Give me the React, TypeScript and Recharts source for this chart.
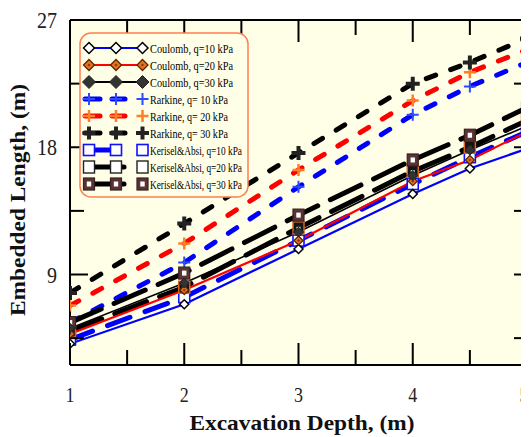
import React from 'react';
import { LineChart, Line, XAxis, YAxis, CartesianGrid } from 'recharts';

const depth = [1, 2, 3, 4, 4.5, 5];
const coulomb10 = [4.1, 6.9, 10.8, 14.7, 16.5, 17.9];
const coulomb20 = [4.8, 7.9, 11.4, 15.6, 17.1, 19.1];
const coulomb30 = [5.2, 8.4, 12.0, 16.0, 17.8, 19.5];
const rankine10 = [5.6, 9.85, 15.2, 20.3, 22.3, 24.0];
const rankine20 = [6.8, 11.2, 16.4, 21.3, 23.3, 24.9];
const rankine30 = [7.7, 12.6, 17.6, 22.5, 24.0, 25.7];
const kerisel10 = [4.4, 7.4, 11.4, 15.4, 17.3, 19.1];
const kerisel20 = [5.0, 8.1, 12.3, 16.3, 18.0, 19.9];
const kerisel30 = [5.6, 9.1, 13.2, 17.1, 18.85, 20.8];

const xTicks = [1, 1.5, 2, 2.5, 3, 3.5, 4, 4.5, 5];
const xLabels = [1, 2, 3, 4, 5];
const yTicks = [4.5, 9, 13.5, 18, 22.5, 27];
const yLabels = [9, 18, 27];

const legendNames = [
  'Coulomb, q=10 kPa',
  'Coulomb, q=20 kPa',
  'Coulomb, q=30 kPa',
  'Rarkine, q= 10 kPa',
  'Rarkine, q= 20 kPa',
  'Rarkine, q= 30 kPa',
  'Kerisel&Absi, q=10 kPa',
  'Kerisel&Absi, q=20 kPa',
  'Kerisel&Absi, q=30 kPa',
];
const legendKeys = ['c10', 'c20', 'c30', 'r10', 'r20', 'r30', 'k10', 'k20', 'k30'];
const legendWidths = [83, 83, 83, 78, 78, 78, 92, 92, 92];

const rows = depth.map((d, i) => ({
  depth: d,
  c10: coulomb10[i],
  c20: coulomb20[i],
  c30: coulomb30[i],
  r10: rankine10[i],
  r20: rankine20[i],
  r30: rankine30[i],
  k10: kerisel10[i],
  k20: kerisel20[i],
  k30: kerisel30[i],
}));

const FONT = "'Liberation Serif', 'Times New Roman', Times, serif";
const BG = '#FFFFE8';
const BLUE = '#0000FF';
const RED = '#FF0000';
const ORANGE = '#FF7F27';

function diamond(cx: number, cy: number, r: number, fill: string, stroke: string, sw: number) {
  return (
    <polygon
      points={`${cx},${cy - r} ${cx + r},${cy} ${cx},${cy + r} ${cx - r},${cy}`}
      fill={fill}
      stroke={stroke}
      strokeWidth={sw}
    />
  );
}

function plus(cx: number, cy: number, r: number, color: string, sw: number) {
  return <path d={`M${cx - r},${cy}H${cx + r}M${cx},${cy - r}V${cy + r}`} stroke={color} strokeWidth={sw} fill="none" />;
}

function marker(kind: string, cx: number, cy: number, legend = false) {
  switch (kind) {
    case 'c10':
      return diamond(cx, cy, legend ? 5.5 : 4.5, '#FFFFFF', '#000', 1.5);
    case 'c20':
      return (
        <g>
          {diamond(cx, cy, legend ? 5.5 : 4.5, '#E8731E', '#5A2500', 1.3)}
          {diamond(cx, cy, 1.6, '#8A3A10', 'none', 0)}
        </g>
      );
    case 'c30':
      return diamond(cx, cy, legend ? 6.5 : 5, '#333333', '#222', 1);
    case 'r10':
      return plus(cx, cy, 6, '#2A4BFF', 2);
    case 'r20':
      return plus(cx, cy, 6, ORANGE, 2.5);
    case 'r30':
      return plus(cx, cy, legend ? 6.5 : 7, '#222', 4);
    case 'k10':
      return <rect x={cx - 5.5} y={cy - 5.5} width={11} height={11} fill="#FFFFFF" stroke="#1010FF" strokeWidth={1.6} />;
    case 'k20':
      if (legend) {
        return <rect x={cx - 5.5} y={cy - 6} width={11} height={12} fill="#FFFFFF" stroke="#222" strokeWidth={1.4} />;
      }
      return (
        <g>
          <rect x={cx - 5.5} y={cy - 6} width={11} height={12} fill="#151515" stroke="#D9661C" strokeWidth={1.5} />
          <rect x={cx - 2} y={cy - 1} width={4} height={3} fill="#FFFFFF" />
        </g>
      );
    case 'k30':
    default:
      return (
        <g>
          <rect x={cx - 5.5} y={cy - 6} width={11} height={12} fill="#5A3434" stroke="#3A2020" strokeWidth={1.2} />
          <rect x={cx - 2.2} y={cy - 2.5} width={4.4} height={5} fill="#FFFFFF" />
        </g>
      );
  }
}

const makeDot = (kind: string) => (p: any) => (
  <g key={`${kind}-${p.index}`}>{p.cx != null && p.cy != null ? marker(kind, p.cx, p.cy) : null}</g>
);

const BottomTick = (props: any) => {
  const { x, y, payload } = props;
  const v = payload.value;
  const major = Number.isInteger(v);
  const isLast = v === 5;
  return (
    <g>
      <line x1={x} x2={x} y1={y} y2={y - (major ? 22 : 15)} stroke="#000" strokeWidth={2} />
      {xLabels.includes(v) && (
        <text
          x={isLast ? x + 1.5 : x}
          y={y + 37}
          textAnchor={isLast ? 'end' : 'middle'}
          fontFamily={FONT}
          fontSize={22}
          fill="#222"
          textLength={9}
          lengthAdjust="spacingAndGlyphs"
        >
          {v}
        </text>
      )}
    </g>
  );
};

const TopTick = (props: any) => {
  const { x, y, payload } = props;
  const major = Number.isInteger(payload.value);
  return <line x1={x} x2={x} y1={y} y2={y + (major ? 22 : 15)} stroke="#000" strokeWidth={2} />;
};

const LeftTick = (props: any) => {
  const { x, y, payload } = props;
  const v = payload.value;
  const major = yLabels.includes(v);
  const s = String(v);
  return (
    <g>
      <line x1={x} x2={x + (major ? 18 : 14)} y1={y} y2={y} stroke="#000" strokeWidth={2} />
      {major && (
        <text
          x={x - 13}
          y={y}
          dy="0.35em"
          textAnchor="end"
          fontFamily={FONT}
          fontSize={23}
          fill="#222"
          textLength={s.length * 10}
          lengthAdjust="spacingAndGlyphs"
        >
          {s}
        </text>
      )}
    </g>
  );
};

const RightTick = (props: any) => {
  const { x, y } = props;
  return <line x1={x} x2={x - 13} y1={y} y2={y} stroke="#000" strokeWidth={2} />;
};

function LegendBox() {
  const mx = [10, 37, 63.5];
  return (
    <g transform="translate(71,24)">
      <rect x={1} y={1} width={168} height={164} rx={11} ry={11} fill={BG} stroke="#FF7F50" strokeWidth={1.5} />
      {legendKeys.map((k, i) => {
        const cy = 16 + i * 17;
        let line: React.ReactNode = null;
        if (k === 'c10' || k === 'c20' || k === 'c30') {
          const col = k === 'c10' ? BLUE : k === 'c20' ? RED : '#000';
          line = <line x1={mx[0]} x2={mx[2]} y1={cy} y2={cy} stroke={col} strokeWidth={2.2} />;
        } else if (k[0] === 'r') {
          const col = k === 'r10' ? BLUE : k === 'r20' ? RED : '#000';
          line = (
            <g stroke={col} strokeWidth={5} strokeLinecap="round">
              <line x1={6} x2={21} y1={cy} y2={cy} />
              <line x1={33} x2={46} y1={cy} y2={cy} />
            </g>
          );
        } else {
          const col = k === 'k10' ? BLUE : '#000';
          line = <line x1={9} x2={k === 'k10' ? 34 : 45} y1={cy} y2={cy} stroke={col} strokeWidth={5} strokeLinecap="round" />;
        }
        return (
          <g key={k}>
            {line}
            {mx.map((x, j) => (
              <g key={j}>{marker(k, x, cy, true)}</g>
            ))}
            <text
              x={71}
              y={cy + 4.5}
              fontFamily={FONT}
              fontSize={13}
              fill="#000"
              textLength={legendWidths[i]}
              lengthAdjust="spacingAndGlyphs"
            >
              {legendNames[i]}
            </text>
          </g>
        );
      })}
    </g>
  );
}

export default function App() {
  const W = 521;
  const H = 429;
  return (
    <div style={{ position: 'relative', width: W, height: H }}>
      <LineChart width={W} height={H} data={rows} margin={{ top: 0, right: 0, left: 0, bottom: 0 }}>
        <CartesianGrid horizontal={false} vertical={false} fill={BG} />
        <XAxis
          dataKey="depth"
          type="number"
          domain={[1, 5]}
          ticks={xTicks}
          interval={0}
          height={72}
          tickSize={0}
          tickMargin={0}
          tickLine={false}
          axisLine={{ stroke: '#000', strokeWidth: 2 }}
          tick={<BottomTick />}
          allowDataOverflow
        />
        <XAxis
          xAxisId="top"
          orientation="top"
          dataKey="depth"
          type="number"
          domain={[1, 5]}
          ticks={xTicks}
          interval={0}
          height={12}
          tickSize={0}
          tickMargin={0}
          tickLine={false}
          axisLine={{ stroke: '#000', strokeWidth: 2 }}
          tick={<TopTick />}
          allowDataOverflow
        />
        <YAxis
          type="number"
          domain={[2.6, 27]}
          ticks={yTicks}
          interval={0}
          width={62}
          tickSize={0}
          tickMargin={0}
          tickLine={false}
          axisLine={{ stroke: '#000', strokeWidth: 2 }}
          tick={<LeftTick />}
          allowDataOverflow
        />
        <YAxis
          yAxisId="right"
          orientation="right"
          type="number"
          domain={[2.6, 27]}
          ticks={yTicks}
          interval={0}
          width={2}
          tickSize={0}
          tickMargin={0}
          tickLine={false}
          axisLine={{ stroke: '#000', strokeWidth: 2 }}
          tick={<RightTick />}
          allowDataOverflow
        />
        <Line xAxisId="top" yAxisId="right" dataKey="r30" stroke="none" dot={false} activeDot={false} isAnimationActive={false} />

        <Line type="linear" dataKey="r10" stroke={BLUE} strokeWidth={5} strokeDasharray="10 16" strokeLinecap="round" dot={makeDot('r10')} activeDot={false} isAnimationActive={false} />
        <Line type="linear" dataKey="r20" stroke={RED} strokeWidth={5} strokeDasharray="10 16" strokeLinecap="round" dot={makeDot('r20')} activeDot={false} isAnimationActive={false} />
        <Line type="linear" dataKey="r30" stroke="#000" strokeWidth={5} strokeDasharray="10 16" strokeLinecap="round" dot={makeDot('r30')} activeDot={false} isAnimationActive={false} />

        <Line type="linear" dataKey="k10" stroke={BLUE} strokeWidth={5} strokeDasharray="24 16" strokeLinecap="round" dot={makeDot('k10')} activeDot={false} isAnimationActive={false} />
        <Line type="linear" dataKey="k20" stroke="#000" strokeWidth={5} strokeDasharray="34 14" strokeLinecap="round" dot={makeDot('k20')} activeDot={false} isAnimationActive={false} />
        <Line type="linear" dataKey="k30" stroke="#000" strokeWidth={5} strokeDasharray="34 14" strokeLinecap="round" dot={makeDot('k30')} activeDot={false} isAnimationActive={false} />

        <Line type="linear" dataKey="c10" stroke={BLUE} strokeWidth={2.2} dot={makeDot('c10')} activeDot={false} isAnimationActive={false} />
        <Line type="linear" dataKey="c20" stroke={RED} strokeWidth={2.2} dot={makeDot('c20')} activeDot={false} isAnimationActive={false} />
        <Line type="linear" dataKey="c30" stroke="#000" strokeWidth={1.6} dot={makeDot('c30')} activeDot={false} isAnimationActive={false} />
      </LineChart>
      <svg width={W} height={H} style={{ position: 'absolute', left: 0, top: 0, pointerEvents: 'none', overflow: 'visible' }}>
        <LegendBox />
        <text
          x={294}
          y={422}
          textAnchor="middle"
          fontFamily={FONT}
          fontWeight="bold"
          fontSize={22}
          fill="#111"
          textLength={225}
          lengthAdjust="spacingAndGlyphs"
        >
          Excavation Depth, (m)
        </text>
        <text
          x={17}
          y={192}
          transform="rotate(-90 17 192)"
          textAnchor="middle"
          fontFamily={FONT}
          fontWeight="bold"
          fontSize={21}
          fill="#111"
          textLength={232}
          lengthAdjust="spacingAndGlyphs"
        >
          Embedded Length, (m)
        </text>
      </svg>
    </div>
  );
}
